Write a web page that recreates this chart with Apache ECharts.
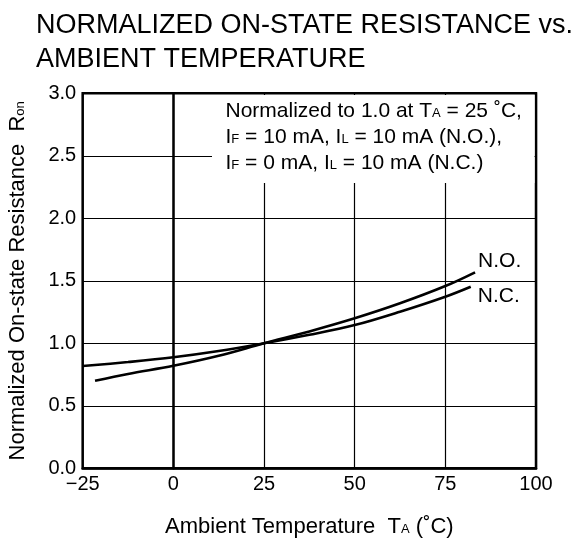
<!DOCTYPE html>
<html>
<head>
<meta charset="utf-8">
<script src="https://cdn.jsdelivr.net/npm/echarts@6/dist/echarts.min.js"></script>
<style>
  html, body { margin: 0; padding: 0; background: #fff; }
  #chart { width: 578px; height: 542px; }
</style>
</head>
<body>
<div id="chart"></div>
<script>
// curves
var temps_NO = [-21.6, -12.5, 0, 12.5, 25, 37.5, 50, 62.5, 75, 83.2];
var ron_NO   = [0.70, 0.755, 0.82, 0.90, 1.0, 1.095, 1.20, 1.32, 1.458, 1.568];
var temps_NC = [-25, -12.5, 0, 12.5, 25, 37.5, 50, 62.5, 75, 82];
var ron_NC   = [0.818, 0.85, 0.888, 0.938, 1.0, 1.068, 1.146, 1.253, 1.373, 1.453];
var curveNames = ['N.O.', 'N.C.'];

var FONT = '"Liberation Sans", Arial, sans-serif';

function pairs(xs, ys) {
    var out = [];
    for (var i = 0; i < xs.length; ++i) {
        out.push([xs[i], ys[i]]);
    }
    return out;
}

var chart = echarts.init(document.getElementById('chart'));

// small letters (T_A, R_on ...) pushed down so they sit on the baseline
var subName = { fontSize: 13, fontFamily: FONT, color: '#000', verticalAlign: 'middle', padding: [5.2, 0, 0, 0] };
var subNote = { fontSize: 13, fontFamily: FONT, fill: '#000', verticalAlign: 'middle', padding: [4.6, 0, 0, 0] };

var option = {
    animation: false,
    title: {
        text: 'NORMALIZED ON-STATE RESISTANCE vs.\nAMBIENT TEMPERATURE',
        left: 31,
        top: 4,
        textStyle: {
            fontFamily: FONT,
            fontSize: 27,
            fontWeight: 'normal',
            color: '#000',
            lineHeight: 34
        }
    },
    grid: {
        left: 82.7,
        right: 42,
        top: 93.3,
        bottom: 73.7,
        outerBoundsMode: 'none',
        show: true,
        borderColor: '#000',
        borderWidth: 2.5
    },
    xAxis: {
        type: 'value',
        min: -25,
        max: 100,
        interval: 25,
        name: 'Ambient Temperature  T{s|A} (˚C)',
        nameLocation: 'middle',
        nameGap: 46,
        nameTextStyle: {
            fontFamily: FONT, fontSize: 22, color: '#000', lineHeight: 26,
            rich: { s: subName }
        },
        axisLine: { lineStyle: { color: '#000', width: 2.5 } },
        axisTick: { show: false },
        axisLabel: {
            margin: 6,
            fontFamily: FONT, fontSize: 20, color: '#000',
            formatter: function (v) { return v < 0 ? '\u2212' + Math.abs(v) : String(v); }
        },
        splitLine: { show: true, lineStyle: { color: '#000', width: 1.2 } }
    },
    yAxis: {
        type: 'value',
        min: 0,
        max: 3,
        interval: 0.5,
        name: 'Normalized On-state Resistance  R{s|on}',
        nameLocation: 'middle',
        nameRotate: 90,
        nameGap: 52,
        nameTextStyle: {
            fontFamily: FONT, fontSize: 22, color: '#000', lineHeight: 26,
            rich: { s: subName }
        },
        axisLine: { lineStyle: { color: '#000', width: 2.5 } },
        axisTick: { show: false },
        axisLabel: {
            margin: 6.5,
            fontFamily: FONT, fontSize: 20, color: '#000',
            formatter: function (v) { return v.toFixed(1); }
        },
        splitLine: { show: true, lineStyle: { color: '#000', width: 1.2 } }
    },
    graphic: [
        {
            type: 'rect',
            z: 10,
            shape: { x: 212, y: 95, width: 322.5, height: 88 },
            style: { fill: '#fff' }
        },
        {
            type: 'text',
            z: 11,
            left: 225.5,
            top: 98.6,
            style: {
                text: 'Normalized to 1.0 at T{s|A} = 25 ˚C,\nI{s|F} = 10 mA, I{s|L} = 10 mA (N.O.),\nI{s|F} = 0 mA, I{s|L} = 10 mA (N.C.)',
                font: '21px ' + FONT,
                fill: '#000',
                lineHeight: 26,
                rich: { s: subNote }
            }
        }
    ],
    series: [
        {
            name: curveNames[0],
            type: 'line',
            data: pairs(temps_NO, ron_NO),
            smooth: 0.35,
            showSymbol: false,
            lineStyle: { color: '#000', width: 2.6 },
            endLabel: {
                show: true,
                formatter: '{a}',
                offset: [-5, -11],
                fontFamily: FONT, fontSize: 21, color: '#000'
            },
            z: 3
        },
        {
            name: curveNames[1],
            type: 'line',
            data: pairs(temps_NC, ron_NC),
            smooth: 0.35,
            showSymbol: false,
            lineStyle: { color: '#000', width: 2.6 },
            endLabel: {
                show: true,
                formatter: '{a}',
                offset: [-1, 10],
                fontFamily: FONT, fontSize: 21, color: '#000'
            },
            z: 3
        }
    ]
};

chart.setOption(option);
</script>
</body>
</html>
